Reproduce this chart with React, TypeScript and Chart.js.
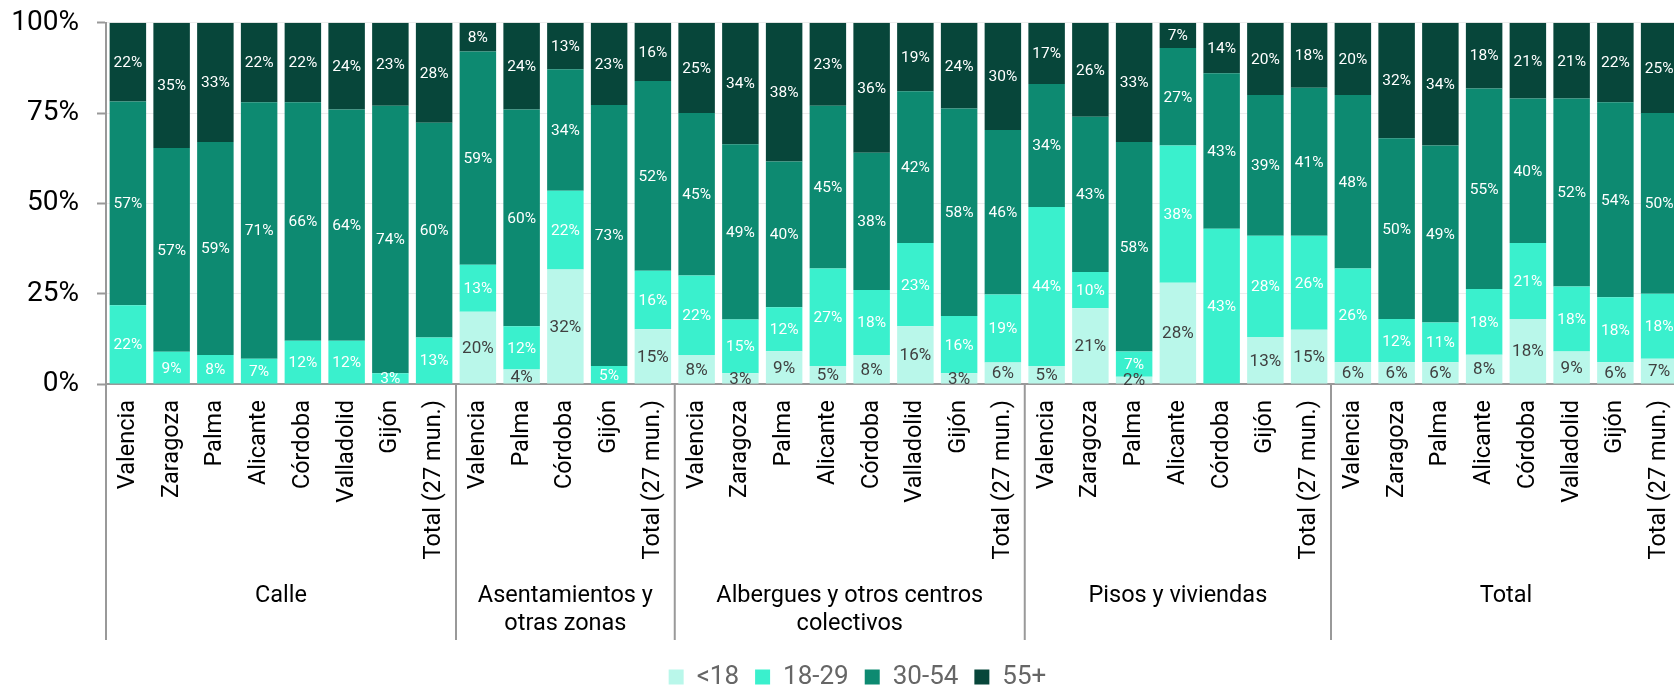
import React, { useEffect, useRef } from "react";
import { Chart, registerables } from "chart.js";

Chart.register(...registerables);

// ---------- DATA ----------
const categories = [
  // Calle
  "Valencia", "Zaragoza", "Palma", "Alicante", "Córdoba", "Valladolid", "Gijón", "Total (27 mun.)",
  // Asentamientos y otras zonas
  "Valencia", "Palma", "Córdoba", "Gijón", "Total (27 mun.)",
  // Albergues y otros centros colectivos
  "Valencia", "Zaragoza", "Palma", "Alicante", "Córdoba", "Valladolid", "Gijón", "Total (27 mun.)",
  // Pisos y viviendas
  "Valencia", "Zaragoza", "Palma", "Alicante", "Córdoba", "Gijón", "Total (27 mun.)",
  // Total
  "Valencia", "Zaragoza", "Palma", "Alicante", "Córdoba", "Valladolid", "Gijón", "Total (27 mun.)",
];

const groupLabels: string[][] = [
  ["Calle"],
  ["Asentamientos y", "otras zonas"],
  ["Albergues y otros centros", "colectivos"],
  ["Pisos y viviendas"],
  ["Total"],
];
const groupSizes = [8, 5, 8, 7, 8];

const under18 = [
  0, 0, 0, 0, 0, 0, 0, 0,
  20, 4, 32, 0, 15,
  8, 3, 9, 5, 8, 16, 3, 6,
  5, 21, 2, 28, 0, 13, 15,
  6, 6, 6, 8, 18, 9, 6, 7,
];
const age18to29 = [
  22, 9, 8, 7, 12, 12, 3, 13,
  13, 12, 22, 5, 16,
  22, 15, 12, 27, 18, 23, 16, 19,
  44, 10, 7, 38, 43, 28, 26,
  26, 12, 11, 18, 21, 18, 18, 18,
];
const age30to54 = [
  57, 57, 59, 71, 66, 64, 74, 60,
  59, 60, 34, 73, 52,
  45, 49, 40, 45, 38, 42, 58, 46,
  34, 43, 58, 27, 43, 39, 41,
  48, 50, 49, 55, 40, 52, 54, 50,
];
const age55plus = [
  22, 35, 33, 22, 22, 24, 23, 28,
  8, 24, 13, 23, 16,
  25, 34, 38, 23, 36, 19, 24, 30,
  17, 26, 33, 7, 14, 20, 18,
  20, 32, 34, 18, 21, 21, 22, 25,
];

const seriesNames = ["<18", "18-29", "30-54", "55+"];
const seriesValues = [under18, age18to29, age30to54, age55plus];
const seriesColors = ["#B9F7EA", "#3AF0CD", "#0D8A71", "#07463A"];
const labelColors = ["#404040", "#FFFFFF", "#FFFFFF", "#FFFFFF"];
const yTickValues = [0, 25, 50, 75, 100];

// ---------- PLUGINS ----------
const valueLabelPlugin = {
  id: "valueLabels",
  afterDatasetsDraw(chart: any) {
    const ctx = chart.ctx;
    ctx.save();
    ctx.textAlign = "center";
    ctx.textBaseline = "middle";
    chart.data.datasets.forEach((ds: any, di: number) => {
      const meta = chart.getDatasetMeta(di);
      const raw = seriesValues[di];
      ctx.fillStyle = labelColors[di];
      ctx.font = di === 0 ? "17px Roboto" : "15.5px Roboto";
      meta.data.forEach((el: any, i: number) => {
        const v = raw[i];
        if (!v) return;
        const p = el.getProps(["x", "y", "base"], true);
        ctx.fillText(v + "%", p.x, (p.y + p.base) / 2 + 1);
      });
    });
    ctx.restore();
  },
};

const groupPlugin = {
  id: "groupAxis",
  afterLayout(chart: any) {
    // shift the legend block so it sits where the reference places it
    const lg = chart.legend;
    if (lg) {
      lg.left += 17;
      lg.right += 17;
    }
  },
  afterDraw(chart: any) {
    const ctx = chart.ctx;
    const x = chart.scales.x;
    const area = chart.chartArea;
    const step = x.getPixelForValue(1) - x.getPixelForValue(0);
    const lineBottom = 640;
    ctx.save();
    ctx.strokeStyle = "#999999";
    ctx.lineWidth = 2;
    let start = 0;
    const bounds: number[] = [];
    groupSizes.forEach((n, g) => {
      const left = x.getPixelForValue(start) - step / 2;
      const right = x.getPixelForValue(start + n - 1) + step / 2;
      if (g === 0) bounds.push(left);
      bounds.push(right);
      ctx.fillStyle = "#000000";
      ctx.font = "23.5px Roboto";
      ctx.textAlign = "center";
      ctx.textBaseline = "middle";
      groupLabels[g].forEach((line, li) => {
        ctx.fillText(line, (left + right) / 2, 596 + li * 28);
      });
      start += n;
    });
    bounds.forEach((b) => {
      ctx.beginPath();
      ctx.moveTo(b, area.bottom);
      ctx.lineTo(b, lineBottom);
      ctx.stroke();
    });
    ctx.restore();
  },
};

export default function App() {
  const canvasRef = useRef<HTMLCanvasElement | null>(null);

  useEffect(() => {
    let chart: Chart | null = null;
    let cancelled = false;
    const build = () => {
      if (cancelled || !canvasRef.current) return;
      Chart.defaults.font.family = "Roboto";
      const totals = categories.map((_, i) =>
        seriesValues.reduce((s, arr) => s + arr[i], 0)
      );
      chart = new Chart(canvasRef.current, {
        type: "bar",
        data: {
          labels: categories,
          datasets: seriesNames.map((name, di) => ({
            label: name,
            data: seriesValues[di].map((v, i) => (v / totals[i]) * 100),
            backgroundColor: seriesColors[di],
            borderWidth: 0,
            barPercentage: 0.834,
            categoryPercentage: 1,
          })),
        },
        options: {
          responsive: false,
          animation: false,
          devicePixelRatio: 1,
          layout: { padding: { left: 0, right: 19, top: 22.7, bottom: 0 } },
          plugins: {
            tooltip: { enabled: false },
            legend: {
              position: "bottom",
              labels: {
                boxWidth: 15,
                boxHeight: 15,
                padding: 16,
                color: "#666666",
                font: { size: 26, family: "Roboto" },
              },
            },
          },
          scales: {
            x: {
              stacked: true,
              grid: { display: true, drawOnChartArea: false, drawTicks: false },
              border: { display: true, color: "#999999", width: 2 },
              ticks: {
                autoSkip: false,
                minRotation: 90,
                maxRotation: 90,
                padding: 16,
                color: "#000000",
                font: { size: 23.5, family: "Roboto" },
              },
              afterFit: (scale: any) => {
                scale.height = 264;
                scale.paddingLeft = 0;
                scale.paddingRight = 0;
              },
            },
            y: {
              stacked: true,
              min: 0,
              max: 100,
              afterBuildTicks: (scale: any) => {
                scale.ticks = yTickValues.map((v) => ({ value: v }));
              },
              grid: {
                color: "#ECECEC",
                lineWidth: 1,
                tickColor: "#999999",
                tickLength: 9,
                tickWidth: 2,
              },
              border: { display: true, color: "#999999", width: 2 },
              ticks: {
                padding: 18,
                color: "#000000",
                font: { size: 28, family: "Roboto" },
                callback: (v: any) => v + "%",
              },
              afterFit: (scale: any) => {
                scale.width = 106;
                scale.paddingTop = 0;
                scale.paddingBottom = 0;
              },
            },
          },
        },
        plugins: [valueLabelPlugin, groupPlugin],
      });
    };
    const fontsApi: any = (document as any).fonts;
    if (fontsApi && fontsApi.load) {
      Promise.all([fontsApi.load("16px Roboto")]).then(build, build);
    } else {
      build();
    }
    return () => {
      cancelled = true;
      if (chart) chart.destroy();
    };
  }, []);

  return (
    <div
      style={{
        position: "fixed",
        left: 0,
        top: 0,
        width: 1674,
        height: 687,
        overflow: "hidden",
        background: "#ffffff",
      }}
    >
      <canvas ref={canvasRef} width={1700} height={700} style={{ display: "block" }} />
    </div>
  );
}
